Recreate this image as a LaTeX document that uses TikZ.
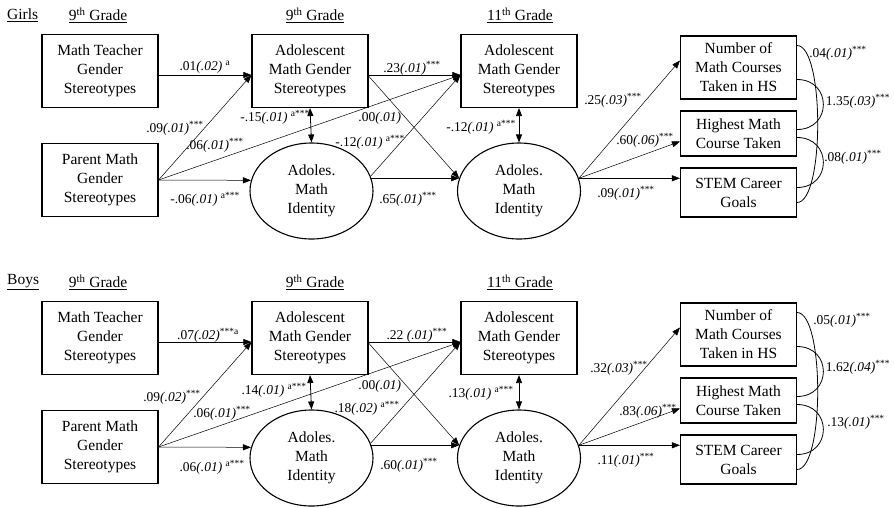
\documentclass[tikz,border=0pt]{standalone}
\usepackage{fontspec}
\setmainfont{Liberation Serif}
\usetikzlibrary{positioning, arrows.meta, shapes.geometric}

\newcommand{\est}[3]{#1\textit{(#2)}\textsuperscript{#3}}
\newcommand{\esta}[3]{#1\textit{(#2)} \textsuperscript{#3}}

\begin{document}
\begin{tikzpicture}[x=1pt, y=-1pt]
    % Define styles
    \tikzstyle{var} = [draw, line width=1.1pt, minimum width=116pt, minimum height=73pt, align=center, inner sep=0pt, font=\fontsize{15.5}{19}\selectfont]
    \tikzstyle{latent} = [var, ellipse, minimum width=123pt, minimum height=96pt]
    \tikzstyle{hdr} = [inner sep=0pt, font=\fontsize{15.5}{19}\selectfont]
    \tikzstyle{arr} = [draw, line width=0.5pt, -{Triangle[length=8pt, width=6pt]}]
    \tikzstyle{cov} = [draw, line width=0.8pt, {Triangle[length=8pt, width=6pt]}-{Triangle[length=8pt, width=6pt]}]
    \tikzstyle{corr} = [draw, line width=0.8pt]
    \tikzstyle{coef} = [inner sep=0pt, font=\fontsize{13.5}{16}\selectfont]

    \useasboundingbox (0,0) rectangle (894,507);

    % Both panels
    \foreach \p/\dy/\sex in {g/0/Girls, b/267/Boys} {
    \begin{scope}[yshift=-\dy pt]
        % Headers
        \node[hdr, anchor=west] (\p-sex) at (7,15) {\underline{\sex}};
        \node[hdr] (\p-h9a) at (98,15) {\underline{9\textsuperscript{th} Grade}};
        \node[hdr] (\p-h9b) at (315,15) {\underline{9\textsuperscript{th} Grade}};
        \node[hdr] (\p-h11) at (520,15) {\underline{11\textsuperscript{th} Grade}};

        % Variables
        \node[var] (\p-teach) at (100,71) {Math Teacher\\Gender\\Stereotypes};
        \node[var] (\p-parent) at (100,180) {Parent Math\\Gender\\Stereotypes};
        \node[var] (\p-adA) at (310,71) {Adolescent\\Math Gender\\Stereotypes};
        \node[latent] (\p-idA) at (311.5,191) {Adoles.\\Math\\Identity};
        \node[var] (\p-adB) at (519,71) {Adolescent\\Math Gender\\Stereotypes};
        \node[latent] (\p-idB) at (519,191) {Adoles.\\Math\\Identity};
        \node[var, minimum height=63pt] (\p-num) at (738.5,67.5) {Number of\\Math Courses\\Taken in HS};
        \node[var, minimum height=45pt] (\p-high) at (738.5,133.5) {Highest Math\\Course Taken};
        \node[var, minimum height=49pt] (\p-stem) at (738.5,192.5) {STEM Career\\Goals};

        % Paths
        \draw[arr] ([yshift=-4pt]\p-teach.east) -- ([yshift=-4pt]\p-adA.west);
        \draw[arr] (\p-parent.east) -- ([yshift=-4pt]\p-adA.west);
        \draw[arr] (\p-parent.east) -- ([yshift=-4pt]\p-adB.west);
        \draw[arr] (\p-parent.east) -- (\p-idA.170);
        \draw[cov] (\p-adA.south) -- (\p-idA.north);
        \draw[arr] ([yshift=-4pt]\p-adA.east) -- ([yshift=-4pt]\p-adB.west);
        \draw[arr] ([yshift=-5pt]\p-adA.east) -- (\p-idB.168);
        \draw[arr] (\p-idA.14) -- ([yshift=-4pt]\p-adB.west);
        \draw[arr] (\p-idA.12) -- (\p-idB.168);
        \draw[cov] (\p-adB.south) -- (\p-idB.north);
        \draw[arr] (\p-idB.12) -- ([yshift=7pt]\p-num.west);
        \draw[arr] (\p-idB.12) -- ([yshift=-8pt]\p-high.west);
        \draw[arr] (\p-idB.12) -- (\p-idB.12 -| \p-stem.west);

        % Correlations among outcomes
        \draw[corr] ([yshift=22pt]\p-num.east) to[out=0, in=0, looseness=0.45] ([yshift=-10pt]\p-stem.east);
        \draw[corr] ([yshift=-12pt]\p-num.east) to[out=0, in=0, looseness=1.8] ([yshift=4pt]\p-high.east);
        \draw[corr] ([yshift=-4pt]\p-high.east) to[out=0, in=0, looseness=1.8] ([yshift=5pt]\p-stem.east);
    \end{scope}
    }

    % Estimates for girls
    \node[coef] (gL1) at (205,67) {\esta{.01}{.02}{a}};
    \node[coef] (gL2) at (175,128) {\est{.09}{.01}{***}};
    \node[coef] (gL3) at (215,145) {\est{.06}{.01}{***}};
    \node[coef] (gL4) at (205,199) {\esta{-.06}{.01}{a***}};
    \node[coef] (gL5) at (275,117) {\esta{-.15}{.01}{a***}};
    \node[coef] (gL6) at (412,68) {\est{.23}{.01}{***}};
    \node[coef] (gL7) at (380,118) {\est{.00}{.01}{}};
    \node[coef] (gL8) at (370,142) {\esta{-.12}{.01}{a***}};
    \node[coef] (gL9) at (408,199) {\est{.65}{.01}{***}};
    \node[coef] (gL10) at (481,127) {\esta{-.12}{.01}{a***}};
    \node[coef] (gL11) at (613,100) {\est{.25}{.03}{***}};
    \node[coef] (gL12) at (645,140) {\est{.60}{.06}{***}};
    \node[coef] (gL13) at (626,193) {\est{.09}{.01}{***}};
    \node[coef] (gL14) at (838,53) {\est{.04}{.01}{***}};
    \node[coef] (gL15) at (858,101) {\est{1.35}{.03}{***}};
    \node[coef] (gL16) at (853,157) {\est{.08}{.01}{***}};

    % Estimates for boys
    \node[coef] (bL1) at (208,335) {\est{.07}{.02}{***a}};
    \node[coef] (bL2) at (172,397) {\est{.09}{.02}{***}};
    \node[coef] (bL3) at (222,413) {\est{.06}{.01}{***}};
    \node[coef] (bL4) at (212,467) {\esta{.06}{.01}{a***}};
    \node[coef] (bL5) at (274,390) {\esta{.14}{.01}{a***}};
    \node[coef] (bL6) at (417,335) {.22 \textit{(.01)}\textsuperscript{***}};
    \node[coef] (bL7) at (380,386) {\est{.00}{.01}{}};
    \node[coef] (bL8) at (367,408) {\esta{.18}{.02}{a***}};
    \node[coef] (bL9) at (409,465) {\est{.60}{.01}{***}};
    \node[coef] (bL10) at (481,393) {\esta{.13}{.01}{a***}};
    \node[coef] (bL11) at (619,368) {\est{.32}{.03}{***}};
    \node[coef] (bL12) at (648,411) {\est{.83}{.06}{***}};
    \node[coef] (bL13) at (626,460) {\est{.11}{.01}{***}};
    \node[coef] (bL14) at (842,320) {\est{.05}{.01}{***}};
    \node[coef] (bL15) at (858,367) {\est{1.62}{.04}{***}};
    \node[coef] (bL16) at (856,422) {\est{.13}{.01}{***}};
\end{tikzpicture}
\end{document}
